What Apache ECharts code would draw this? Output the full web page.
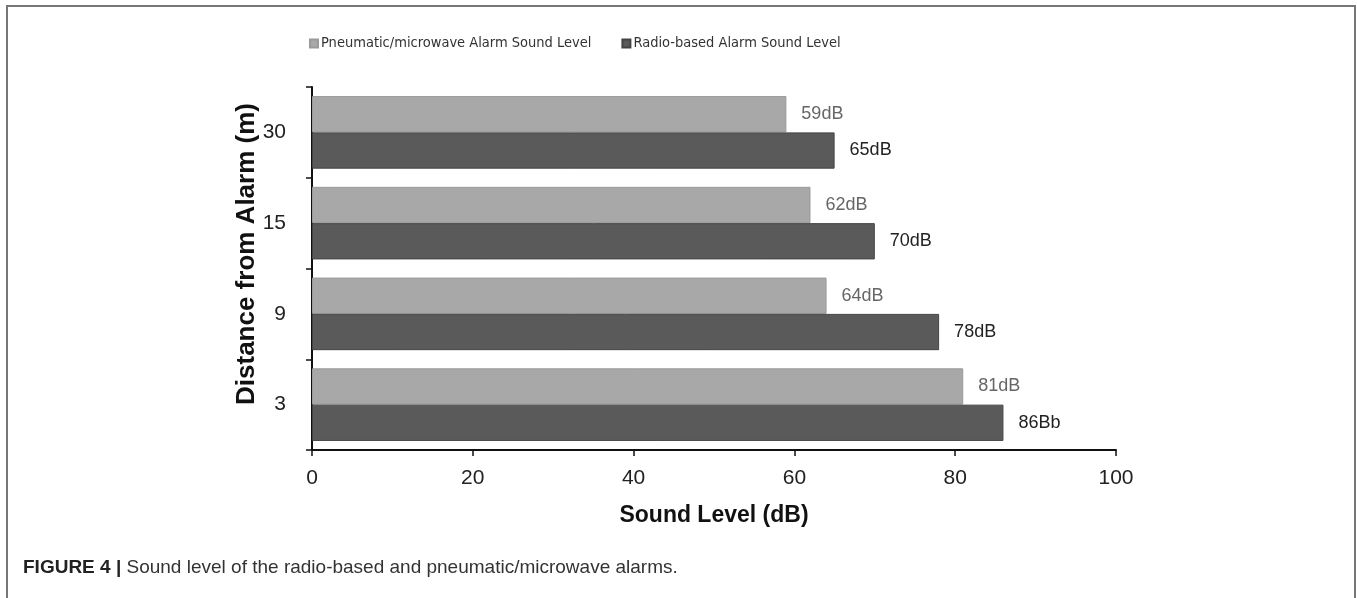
<!DOCTYPE html>
<html>
<head>
<meta charset="utf-8">
<title>Sound level of alarms</title>
<script src="https://cdn.jsdelivr.net/npm/echarts@6/dist/echarts.min.js"></script>
<style>
  html, body { margin: 0; padding: 0; background: #fff; }
  #chart { width: 1357px; height: 598px; }
</style>
</head>
<body>
<div id="chart"></div>
<script>
// Distance from the alarm (m), listed top to bottom
const distances = ['30', '15', '9', '3'];
// Measured sound levels (dB)
const pneumaticLevels = [59, 62, 64, 81];
const radioLevels = [65, 70, 78, 86];
// Value labels as printed beside each bar
const pneumaticLabels = ['59dB', '62dB', '64dB', '81dB'];
const radioLabels = ['65dB', '70dB', '78dB', '86Bb'];
const seriesNames = ['Pneumatic/microwave Alarm Sound Level', 'Radio-based Alarm Sound Level'];

const FONT = "'Liberation Sans', Arial, Helvetica, sans-serif";
const NARROW = "'Liberation Sans Narrow', 'Arial Narrow', 'DejaVu Sans Condensed', 'Liberation Sans', sans-serif";

const chart = echarts.init(document.getElementById('chart'), null, { renderer: 'canvas' });

chart.setOption({
  animation: false,
  backgroundColor: '#ffffff',
  textStyle: { fontFamily: FONT },
  legend: {
    data: seriesNames,
    left: 304,
    top: 31,
    itemWidth: 8,
    itemHeight: 8,
    itemGap: 30,
    icon: 'rect',
    textStyle: { fontFamily: NARROW, fontSize: 14.5, color: '#333', padding: [0, 0, 0, -2] }
  },
  grid: { left: 312, right: 241, top: 87, bottom: 148, containLabel: false },
  xAxis: {
    type: 'value',
    min: 0,
    max: 100,
    interval: 20,
    name: 'Sound Level (dB)',
    nameLocation: 'middle',
    nameGap: 54,
    nameTextStyle: { fontFamily: FONT, fontSize: 23, fontWeight: 'bold', color: '#111' },
    axisLine: { show: true, lineStyle: { color: '#111', width: 2 } },
    axisTick: { show: true, length: 6, lineStyle: { color: '#111', width: 1.5 } },
    axisLabel: { fontFamily: FONT, fontSize: 21, color: '#222', margin: 18 },
    splitLine: { show: false }
  },
  yAxis: {
    type: 'category',
    data: distances,
    inverse: true,
    axisLine: { show: true, lineStyle: { color: '#111', width: 2 } },
    axisTick: { show: true, length: 6, lineStyle: { color: '#111', width: 1.5 } },
    axisLabel: { fontFamily: FONT, fontSize: 21, color: '#222', margin: 26 }
  },
  series: [
    {
      name: seriesNames[0],
      type: 'bar',
      data: pneumaticLevels,
      barGap: '0%',
      barCategoryGap: '20%',
      itemStyle: { color: '#a8a8a8', borderColor: '#9a9a9a', borderWidth: 1 },
      label: {
        show: true,
        position: 'right',
        distance: 15,
        fontFamily: FONT,
        fontSize: 18,
        color: '#666',
        formatter: p => pneumaticLabels[p.dataIndex]
      }
    },
    {
      name: seriesNames[1],
      type: 'bar',
      data: radioLevels,
      barGap: '0%',
      barCategoryGap: '20%',
      itemStyle: { color: '#5a5a5a', borderColor: '#444', borderWidth: 1 },
      label: {
        show: true,
        position: 'right',
        distance: 15,
        fontFamily: FONT,
        fontSize: 18,
        color: '#222',
        formatter: p => radioLabels[p.dataIndex]
      }
    }
  ],
  graphic: [
    {
      type: 'polyline',
      silent: true,
      shape: { points: [[7, 598], [7, 6], [1355, 6], [1355, 598]] },
      style: { stroke: '#777', lineWidth: 2, fill: null }
    },
    {
      // vertical axis title, set slightly above the plot's centre
      type: 'text',
      x: 247,
      y: 254,
      rotation: Math.PI / 2,
      silent: true,
      style: {
        text: 'Distance from Alarm (m)',
        fontFamily: FONT,
        fontSize: 26,
        fontWeight: 'bold',
        fill: '#111',
        align: 'center',
        verticalAlign: 'middle'
      }
    },
    {
      type: 'text',
      left: 23,
      top: 558,
      silent: true,
      style: {
        text: '{b|FIGURE 4 |} Sound level of the radio-based and pneumatic/microwave alarms.',
        fontFamily: FONT,
        fontSize: 19,
        fill: '#333',
        rich: {
          b: { fontFamily: FONT, fontSize: 19, fontWeight: 'bold', fill: '#222' }
        }
      }
    }
  ]
});
</script>
</body>
</html>
